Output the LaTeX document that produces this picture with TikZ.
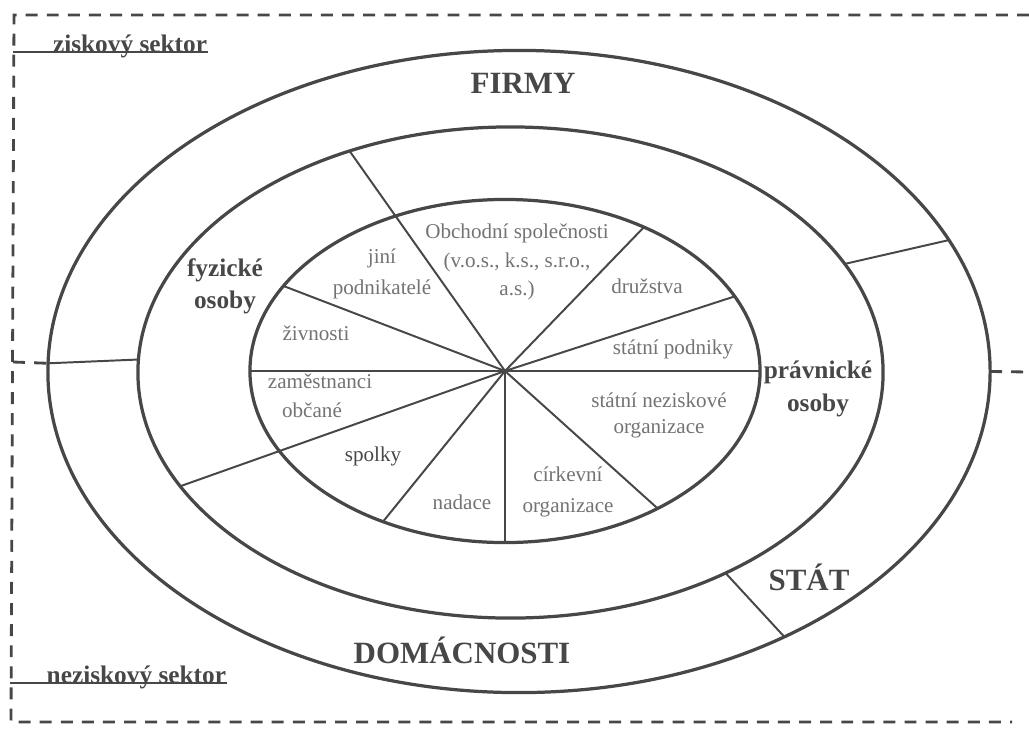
\documentclass[tikz,border=0pt]{standalone}
\usepackage{fontspec}
\setmainfont{Liberation Serif}
\usepackage{xcolor}
\usepackage{tikz}
\usetikzlibrary{shapes.geometric}
\usetikzlibrary{calc}

\definecolor{ink}{gray}{0.28}
\definecolor{pale}{gray}{0.45}

\begin{document}
\begin{tikzpicture}[
                x = 0.025cm, % one pixel of the grid
                y = -0.025cm,
                line width = 1.4pt, % line style
                draw = ink
        ]

        \tikzstyle{ring}=[
            ellipse,
            draw = ink,
            line width = 2.3pt,
            inner sep = 0pt,
            outer sep = 0pt
        ]
        \tikzstyle{spoke}=[draw = ink, line width = 1.4pt]
        \tikzstyle{frame}=[draw = ink, line width = 2pt, dash pattern = on 8.5pt off 6.5pt]
        \tikzstyle{small}=[text = pale, font = \fontsize{15}{20.5}\selectfont, align = center, inner sep = 0pt]
        \tikzstyle{mid}=[text = ink, font = \fontsize{18}{23}\selectfont\bfseries, align = center, inner sep = 0pt]
        \tikzstyle{big}=[text = ink, font = \fontsize{22}{26}\selectfont\bfseries, inner sep = 0pt]
        \tikzstyle{sector}=[text = ink, font = \fontsize{18}{22}\selectfont\bfseries, inner sep = 0pt]

        \useasboundingbox (0,0) rectangle (1029,731);

        % the three rings
        \node[ring, minimum width = 23.55cm, minimum height = 16.05cm] (outer) at (519,371.5) {};
        \node[ring, minimum width = 18.625cm, minimum height = 12.275cm] (middle) at (510.5,372.5) {};
        \node[ring, minimum width = 12.75cm, minimum height = 8.575cm] (inner) at (505,371) {};

        % dashed frame
        \coordinate (TR) at (1029,15);
        \coordinate (TL) at (14,15);
        \coordinate (BL) at (11,722);
        \coordinate (BR) at (1012,722);
        \coordinate (LT) at (13,362);
        \coordinate (RT) at (1029,372);
        \draw[frame] (TR) -- (TL) -- (BL) -- (BR);
        \draw[frame] (LT) -- (outer.179);
        \draw[frame] (outer.0) -- (RT);

        % sectors
        \node[sector, anchor = base east] (zisk) at (208,52) {ziskový sektor};
        \node[sector, anchor = base east] (nezisk) at (227,683) {neziskový sektor};
        \coordinate (ZU) at (13,52);
        \coordinate (NU) at (10,683);
        \draw[spoke] (ZU) -- (zisk.base east);
        \draw[spoke] (NU) -- (nezisk.base east);

        % outer ring borders
        \draw[spoke] (outer.179) -- (middle.178.4);
        \draw[spoke] (middle.18) -- (outer.17.6);
        \draw[spoke] (middle.317) -- (outer.315.5);

        % spokes
        \draw[spoke] (inner.center) -- (middle.126.9);
        \draw[spoke] (inner.center) -- (middle.199.5);
        \foreach \a in {159.5, 180, 231.9, 270, 318.9, 0, 18.7, 46.9}
            \draw[spoke] (inner.center) -- (inner.\a);

        % inner labels
        \node[small] (obch) at (517,262) {Obchodní společnosti\\(v.o.s., k.s., s.r.o.,\\a.s.)};
        \node[small] (jini) at (382,274) {jiní\\[2pt]podnikatelé};
        \node[small] (zivn) at (316,333) {živnosti};
        \node[small] (zam) at (320,381) {zaměstnanci};
        \node[small] (obc) at (312,410) {občané};
        \node[small, text = ink] (spol) at (373,456) {spolky};
        \node[small] (nad) at (462,502) {nadace};
        \node[small] (cirk) at (568,492) {církevní\\[1pt]organizace};
        \node[small] (stn) at (659,415) {státní neziskové\\[-2pt]organizace};
        \node[small] (stp) at (673,349) {státní podniky};
        \node[small] (druz) at (647,286) {družstva};

        % middle ring
        \node[mid] (fyz) at (225,286) {fyzické\\osoby};
        \node[mid] (prav) at (818,389) {právnické\\osoby};

        % outer ring
        \node[big] (firmy) at (523,83) {FIRMY};
        \node[big] (stat) at (809,577) {STÁT};
        \node[big] (domac) at (462,650) {DOMÁCNOSTI};

        \end{tikzpicture}
\end{document}
